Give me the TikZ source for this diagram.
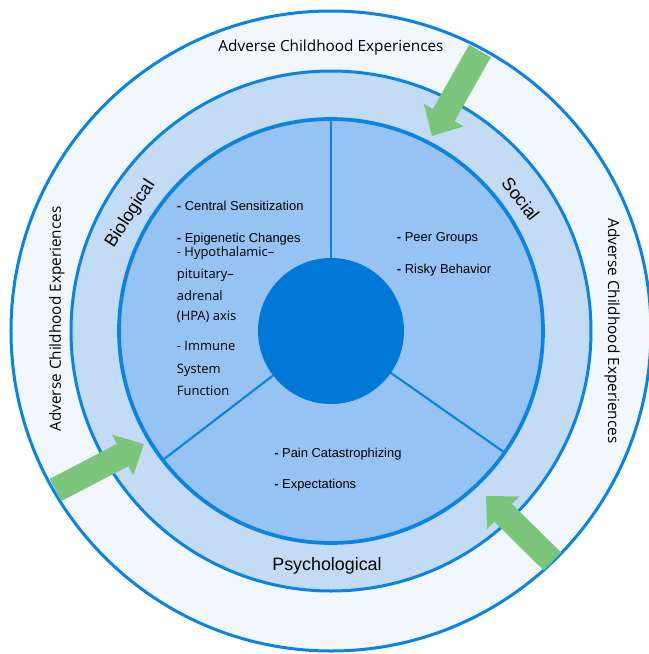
\documentclass[tikz,border=0pt]{standalone}
\usepackage{fontspec}
\setmainfont{Liberation Sans}
\newfontfamily\segoe{Open Sans}
\definecolor{outerfill}{HTML}{F2F7FD}
\definecolor{ringfill}{HTML}{C4DBF6}
\definecolor{piefill}{HTML}{96C2F4}
\definecolor{corefill}{HTML}{0078D7}
\definecolor{edgeblue}{HTML}{0A84E3}
\definecolor{arrowgreen}{HTML}{7BC67B}
\newcommand\acearrow[3]{%
  \fill[arrowgreen, shift={#1}, rotate=#2]
    (0,-12.5) -- ({#3-24},-12.5) -- ({#3-24},-23) -- (#3,0)
    -- ({#3-24},23) -- ({#3-24},12.5) -- (0,12.5) -- cycle;}
\begin{document}
\begin{tikzpicture}[x=0.75pt,y=0.75pt,
  ringline/.style={draw=edgeblue, line width=2.25pt},
  spoke/.style={draw=edgeblue, line width=1.6pt},
  item/.style={anchor=west, inner sep=0pt, font=\fontsize{9.7}{11}\selectfont},
  sitem/.style={anchor=west, inner sep=0pt, font=\segoe\fontsize{9.7}{11}\selectfont},
  ace/.style={inner sep=0pt, font=\segoe\fontsize{11.5}{13}\selectfont},
  domainlbl/.style={inner sep=0pt, font=\fontsize{13.4}{15}\selectfont}]
\useasboundingbox (-331,-323) rectangle (318,331);
\clip (-331,-323) rectangle (318,331);
\fill[white] (-331,-323) rectangle (318,331);
% rings
\draw[ringline, fill=outerfill] (0,0) circle (320);
\draw[ringline, fill=ringfill] (0,0) circle (260);
\draw[ringline, fill=piefill, line width=2.8pt] (0,0) circle (212);
% spokes
\coordinate (s1a) at (90:73);  \coordinate (s1b) at (90:212);
\coordinate (s2a) at (-35:73); \coordinate (s2b) at (-35:212);
\coordinate (s3a) at (-142.5:73); \coordinate (s3b) at (-142.5:212);
\draw[spoke] (s1a) -- (s1b);
\draw[spoke] (s2a) -- (s2b);
\draw[spoke] (s3a) -- (s3b);
\fill[corefill] (0,0) circle (73);
% arrows
\acearrow{(149,280)}{-119.5}{97.6}
\acearrow{(-275.5,-159)}{27.5}{99.7}
\acearrow{(221.5,-230.5)}{135.4}{93.3}
% outer labels
\node[ace] (acetop) at (0,283) {Adverse Childhood Experiences};
\node[ace, rotate=90] (aceleft) at (-274,12) {Adverse Childhood Experiences};
\node[ace, rotate=-90] (aceright) at (281,0) {Adverse Childhood Experiences};
% domain labels
\node[domainlbl, rotate=57] (bio) at (-200.5,117) {Biological};
\node[domainlbl, rotate=-52] (soc) at (189.7,132) {Social};
\node[domainlbl] (psy) at (-4,-235) {Psychological};
% biological items
\node[item] (b1) at (-154.3,125) {\textbf{-} Central Sensitization};
\node[item] (b2) at (-154.3,92) {\textbf{-} Epigenetic Changes};
\node[sitem] (b3) at (-154.3,78) {- Hypothalamic–};
\node[sitem] (b4) at (-154.3,56) {pituitary–};
\node[sitem] (b5) at (-154.3,35.3) {adrenal};
\node[sitem] (b6) at (-154.3,14) {(HPA) axis};
\node[sitem] (b7) at (-154.3,-15) {- Immune};
\node[sitem] (b8) at (-154.3,-39) {System};
\node[sitem] (b9) at (-154.3,-59.7) {Function};
% social items
\node[item] (s1) at (65.7,92.7) {\textbf{-} Peer Groups};
\node[item] (s2) at (65.7,61) {\textbf{-} Risky Behavior};
% psychological items
\node[item] (p1) at (-57,-123) {\textbf{-} Pain Catastrophizing};
\node[item] (p2) at (-57,-154) {\textbf{-} Expectations};
\end{tikzpicture}
\end{document}
